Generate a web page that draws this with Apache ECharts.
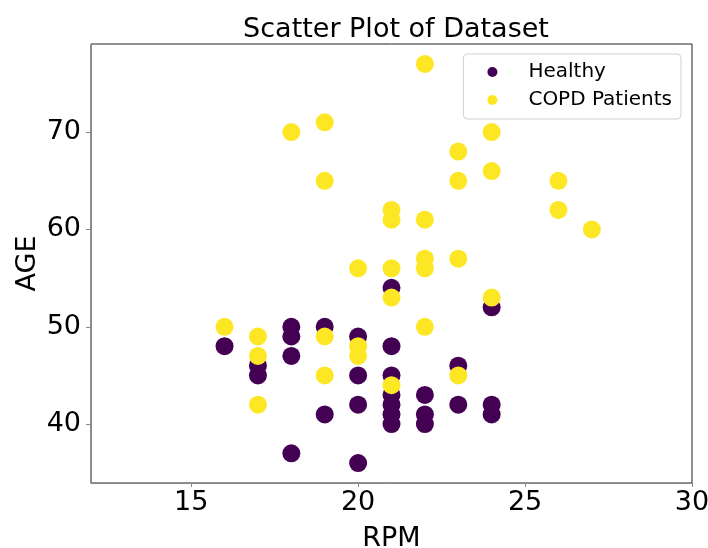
<!DOCTYPE html>
<html>
<head>
<meta charset="utf-8">
<script src="https://cdn.jsdelivr.net/npm/echarts@6/dist/echarts.min.js"></script>
<style>
  html, body { margin: 0; padding: 0; background: #fff; }
  #main { width: 708px; height: 548px; }
</style>
</head>
<body>
<div id="main"></div>
<script>
// RPM / AGE pairs
var healthyRpm = [16, 17, 17, 18, 18, 18, 18, 19, 19, 20, 20, 20, 20, 21, 21, 21, 21, 21, 21, 21, 22, 22, 22, 23, 23, 24, 24, 24];
var healthyAge = [48, 46, 45, 50, 49, 47, 37, 50, 41, 49, 45, 42, 36, 54, 48, 45, 43, 42, 41, 40, 43, 41, 40, 46, 42, 52, 42, 41];

var copdRpm = [16, 17, 17, 17, 18, 19, 19, 19, 19, 20, 20, 20, 21, 21, 21, 21, 21, 22, 22, 22, 22, 22, 23, 23, 23, 23, 24, 24, 24, 26, 26, 27];
var copdAge = [50, 49, 47, 42, 70, 71, 65, 49, 45, 56, 48, 47, 62, 61, 56, 53, 44, 77, 61, 57, 56, 50, 68, 65, 57, 45, 70, 66, 53, 65, 62, 60];

var xTicks = [15, 20, 25, 30];
var yTicks = [40, 50, 60, 70];

function pairs(xs, ys) {
    var out = [];
    for (var i = 0; i < xs.length; i++) out.push([xs[i], ys[i]]);
    return out;
}

var font = 'DejaVu Sans';
var chart = echarts.init(document.getElementById('main'));

var option = {
    animation: false,
    title: {
        text: 'Scatter Plot of Dataset',
        left: 391,
        textAlign: 'center',
        top: 11,
        textStyle: { fontFamily: font, fontSize: 27, fontWeight: 'normal', color: '#000' }
    },
    legend: {
        orient: 'vertical',
        right: 27,
        top: 54,
        padding: [8, 9, 9, 24],
        itemGap: 8,
        itemWidth: 10,
        itemHeight: 10,
        icon: 'circle',
        backgroundColor: '#fff',
        borderColor: '#d0d0d0',
        borderWidth: 1,
        borderRadius: 4,
        textStyle: { fontFamily: font, fontSize: 20, lineHeight: 20, color: '#000', padding: [0, 0, 0, 26] },
        data: ['Healthy', 'COPD Patients']
    },
    grid: {
        left: 91, right: 16, top: 44, bottom: 65,
        outerBoundsMode: 'none',
        show: true, borderColor: '#222', borderWidth: 1
    },
    xAxis: {
        type: 'value',
        min: 12,
        max: 30,
        name: 'RPM',
        nameLocation: 'middle',
        nameGap: 42,
        nameMoveOverlap: false,
        nameTextStyle: { fontFamily: font, fontSize: 27, color: '#000' },
        splitLine: { show: false },
        axisLine: { show: true, lineStyle: { color: '#888' } },
        axisTick: { show: true, length: 4, lineStyle: { color: '#888' }, customValues: xTicks },
        axisLabel: { fontFamily: font, fontSize: 27, color: '#000', margin: 6, customValues: xTicks }
    },
    yAxis: {
        type: 'value',
        min: 33.95,
        max: 79.05,
        name: 'AGE',
        nameLocation: 'middle',
        nameGap: 50,
        nameMoveOverlap: false,
        nameTextStyle: { fontFamily: font, fontSize: 27, color: '#000' },
        splitLine: { show: false },
        axisLine: { show: true, lineStyle: { color: '#888' } },
        axisTick: { show: true, length: 5, lineStyle: { color: '#888' }, customValues: yTicks },
        axisLabel: { fontFamily: font, fontSize: 27, color: '#000', margin: 10, customValues: yTicks }
    },
    series: [
        {
            name: 'Healthy',
            type: 'scatter',
            symbolSize: 18,
            itemStyle: { color: '#440154', opacity: 1 },
            data: pairs(healthyRpm, healthyAge)
        },
        {
            name: 'COPD Patients',
            type: 'scatter',
            symbolSize: 18,
            itemStyle: { color: '#fde725', opacity: 1 },
            data: pairs(copdRpm, copdAge)
        }
    ]
};

chart.setOption(option);
</script>
</body>
</html>
